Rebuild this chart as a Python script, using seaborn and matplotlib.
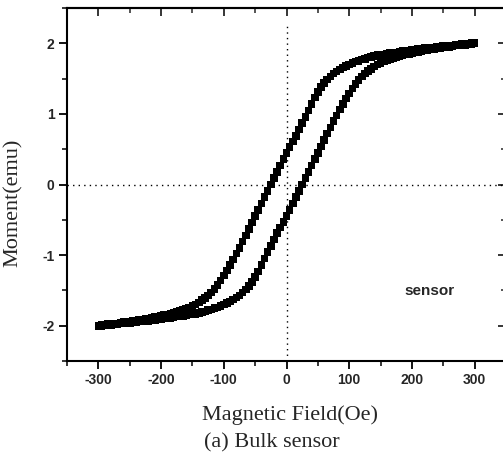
import numpy as np
import pandas as pd
import matplotlib
matplotlib.use("Agg")
import matplotlib.pyplot as plt
import seaborn as sns

# Field values (Oe), -300 ... 300 in 5 Oe steps
field = list(range(-300, 301, 5))

# Descending branch (field swept from +300 down to -300), listed by increasing field
moment_down = [
    -2.00, -1.99, -1.99, -1.98, -1.98, -1.97, -1.97, -1.96, -1.95, -1.95,
    -1.94, -1.93, -1.93, -1.92, -1.91, -1.90, -1.90, -1.89, -1.88, -1.87,
    -1.86, -1.85, -1.84, -1.83, -1.82, -1.81, -1.79, -1.78, -1.76, -1.74,
    -1.72, -1.70, -1.67, -1.64, -1.61, -1.57, -1.53, -1.48, -1.42, -1.36,
    -1.29, -1.22, -1.14, -1.06, -0.98, -0.90, -0.81, -0.72, -0.63, -0.54,
    -0.45, -0.36, -0.27, -0.18, -0.09, 0.00, 0.09, 0.18, 0.27, 0.36,
    0.45, 0.53, 0.61, 0.69, 0.78, 0.87, 0.96, 1.05, 1.14, 1.23,
    1.31, 1.38, 1.44, 1.49, 1.53, 1.57, 1.60, 1.63, 1.66, 1.68,
    1.70, 1.72, 1.74, 1.75, 1.77, 1.78, 1.80, 1.81, 1.82, 1.83,
    1.84, 1.84, 1.85, 1.86, 1.87, 1.87, 1.88, 1.89, 1.89, 1.90,
    1.91, 1.91, 1.92, 1.92, 1.93, 1.93, 1.94, 1.94, 1.95, 1.95,
    1.96, 1.96, 1.97, 1.97, 1.98, 1.98, 1.99, 1.99, 1.99, 2.00,
    2.00,
]

# Ascending branch (field swept from -300 up to +300)
moment_up = [
    -2.00, -2.00, -1.99, -1.99, -1.99, -1.98, -1.98, -1.97, -1.97, -1.96,
    -1.96, -1.95, -1.95, -1.94, -1.94, -1.93, -1.93, -1.92, -1.92, -1.91,
    -1.91, -1.90, -1.89, -1.89, -1.88, -1.87, -1.87, -1.86, -1.85, -1.84,
    -1.84, -1.83, -1.82, -1.81, -1.80, -1.78, -1.77, -1.75, -1.74, -1.72,
    -1.70, -1.68, -1.66, -1.63, -1.60, -1.57, -1.53, -1.49, -1.44, -1.38,
    -1.31, -1.23, -1.14, -1.05, -0.96, -0.87, -0.78, -0.69, -0.61, -0.53,
    -0.45, -0.36, -0.27, -0.18, -0.09, 0.00, 0.09, 0.18, 0.27, 0.36,
    0.45, 0.54, 0.63, 0.72, 0.81, 0.90, 0.98, 1.06, 1.14, 1.22,
    1.29, 1.36, 1.42, 1.48, 1.53, 1.57, 1.61, 1.64, 1.67, 1.70,
    1.72, 1.74, 1.76, 1.78, 1.79, 1.81, 1.82, 1.83, 1.84, 1.85,
    1.86, 1.87, 1.88, 1.89, 1.90, 1.90, 1.91, 1.92, 1.93, 1.93,
    1.94, 1.95, 1.95, 1.96, 1.97, 1.97, 1.98, 1.98, 1.99, 1.99,
    2.00,
]

x_ticks = [-300, -200, -100, 0, 100, 200, 300]
y_ticks = [-2, -1, 0, 1, 2]

df = pd.DataFrame({
    "field": field + field,
    "moment": moment_down + moment_up,
    "branch": ["down"] * len(field) + ["up"] * len(field),
})

sns.set_style("ticks")
plt.rcParams["font.family"] = ["Liberation Sans", "DejaVu Sans"]

fig = plt.figure(figsize=(5.03, 4.57), dpi=100)
ax = fig.add_axes([67 / 503, 1 - 361 / 457, 439 / 503, 353 / 457])

ax.axhline(0, color="black", lw=1.0, ls=(0, (1, 3)), zorder=1)
ax.axvline(0, color="black", lw=1.0, ls=(0, (1, 3)), ymax=0.955, zorder=1)

sns.scatterplot(data=df, x="field", y="moment", hue="branch",
                palette={"down": "black", "up": "black"},
                marker="s", s=30, linewidth=0, legend=False, ax=ax, zorder=3)

ax.set_xlim(-349, 345)
ax.set_ylim(-2.5, 2.5)
ax.set_xticks(x_ticks)
ax.set_yticks(y_ticks)
ax.set_xticks(np.arange(-350, 351, 50), minor=True)
ax.set_yticks(np.arange(-2.5, 2.51, 0.5), minor=True)
ax.set_xticklabels([str(v) for v in x_ticks])
ax.set_yticklabels([str(v) for v in y_ticks])

for sp in ax.spines.values():
    sp.set_visible(True)
    sp.set_linewidth(1.5)
    sp.set_color("black")

ax.tick_params(axis="both", which="major", direction="out", length=6, width=1.3,
               labelsize=10, pad=3, color="black")
ax.tick_params(axis="both", which="minor", direction="out", length=3.5, width=1.1,
               color="black")
for lab in ax.get_xticklabels() + ax.get_yticklabels():
    lab.set_fontweight("bold")

# inward ticks on top and right
axt = ax.secondary_xaxis("top")
axt.set_xticks(x_ticks)
axt.set_xticks(np.arange(-350, 351, 50), minor=True)
axt.tick_params(which="major", direction="in", length=6, width=1.3, labeltop=False)
axt.tick_params(which="minor", direction="in", length=3.5, width=1.1)
axt.spines["top"].set_linewidth(1.5)
axr = ax.secondary_yaxis("right")
axr.set_yticks(y_ticks)
axr.set_yticks(np.arange(-2.5, 2.51, 0.5), minor=True)
axr.tick_params(which="major", direction="in", length=6, width=1.3, labelright=False)
axr.tick_params(which="minor", direction="in", length=3.5, width=1.1)

ax.set_xlabel("Magnetic Field(Oe)", family=["Liberation Serif", "DejaVu Serif"],
              fontsize=16)
ax.set_ylabel("Moment(emu)", family=["Liberation Serif", "DejaVu Serif"],
              fontsize=16)
ax.xaxis.set_label_coords(0.508, -0.125)
ax.yaxis.set_label_coords(-0.101, 0.449)

ax.text(228, -1.51, "sensor", fontsize=11, fontweight="bold", ha="center",
        va="center")

fig.text(271.5 / 503, 1 - 443 / 457, "(a) Bulk sensor",
         family=["Liberation Serif", "DejaVu Serif"], fontsize=16,
         ha="center", va="center")

fig.savefig("out.png", dpi=100)
